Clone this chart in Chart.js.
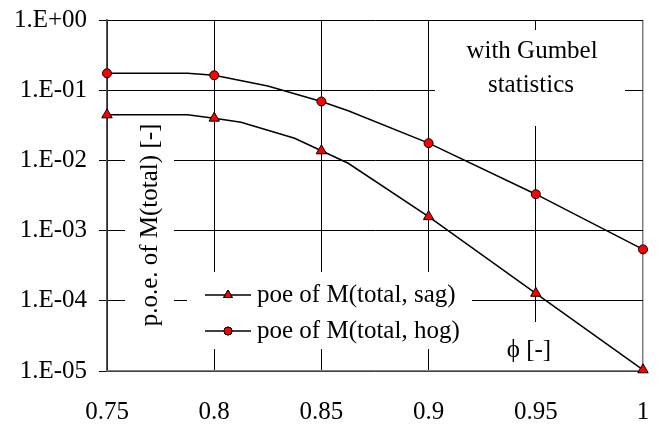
<!DOCTYPE html>
<html>
<head>
<meta charset="utf-8">
<script src="https://cdn.jsdelivr.net/npm/chart.js@4/dist/chart.umd.min.js"></script>
<style>
  html, body { margin: 0; padding: 0; background: #fff; }
  #wrap { width: 659px; height: 424px; position: relative; }
</style>
</head>
<body>
<div id="wrap"><canvas id="poeChart" width="659" height="424"></canvas></div>
<script>
// values
const sagPhi = [0.75, 0.7875, 0.8, 0.8125, 0.8375, 0.85, 0.8625, 0.9, 0.95, 1.0];
const sagPoe = [0.0446, 0.0446, 0.040, 0.035, 0.0207, 0.0137, 0.0091, 0.00158, 0.000128, 0.0000104];

const hogPhi = [0.75, 0.7875, 0.8, 0.825, 0.85, 0.8625, 0.9, 0.95, 1.0];
const hogPoe = [0.174, 0.174, 0.163, 0.115, 0.069, 0.051, 0.0176, 0.0033, 0.00054];

// markers only sit on these phi values
const markerPhi = [0.75, 0.8, 0.85, 0.9, 0.95, 1.0];

const xTicks = [0.75, 0.8, 0.85, 0.9, 0.95, 1.0];
const xTickLabels = ['0.75', '0.8', '0.85', '0.9', '0.95', '1'];
const yTicks = [1e-5, 1e-4, 1e-3, 1e-2, 1e-1, 1];
const yTickLabels = ['1.E-05', '1.E-04', '1.E-03', '1.E-02', '1.E-01', '1.E+00'];

const seriesNames = ['poe of M(total, sag)', 'poe of M(total, hog)'];

const FONT = "'Liberation Serif', 'Times New Roman', serif";
const FSIZE = 25;

function toPoints(xs, ys) {
  return xs.map((x, i) => ({ x: x, y: ys[i] }));
}

function isMarker(x) {
  return markerPhi.some(m => Math.abs(m - x) < 1e-9);
}

// white boxes and texts sitting inside the plot (legend, titles, note)
const overlayPlugin = {
  id: 'overlay',
  beforeDatasetsDraw(chart) {
    const ctx = chart.ctx;
    ctx.save();
    ctx.fillStyle = '#fff';
    ctx.fillRect(125, 114, 49, 223);   // y title
    ctx.fillRect(187, 272, 285, 77);   // legend
    ctx.fillRect(435, 30, 190, 96);    // note
    ctx.fillRect(503, 322, 55, 48);    // x title

    ctx.fillStyle = '#000';
    ctx.font = FSIZE + 'px ' + FONT;
    ctx.textBaseline = 'middle';
    ctx.textAlign = 'center';
    ctx.fillText('with Gumbel', 532, 51);
    ctx.fillText('statistics', 531, 85);
    ctx.fillText('\u03D5 [-]', 529, 350);

    ctx.save();
    ctx.translate(150, 225);
    ctx.rotate(-Math.PI / 2);
    ctx.fillText('p.o.e. of M(total) [-]', 0, 0);
    ctx.restore();

    // legend
    const rows = [
      { y: 295, style: 'triangle', r: 5 },
      { y: 331, style: 'circle', r: 4 }
    ];
    rows.forEach((row, i) => {
      ctx.strokeStyle = '#000';
      ctx.lineWidth = 1.5;
      ctx.beginPath();
      ctx.moveTo(205, row.y);
      ctx.lineTo(251, row.y);
      ctx.stroke();
      ctx.fillStyle = '#ff0000';
      ctx.strokeStyle = '#000';
      ctx.lineWidth = 1;
      Chart.helpers.drawPoint(ctx, { pointStyle: row.style, radius: row.r, rotation: 0, borderWidth: 1 }, 228, row.y);
      ctx.fill();
      ctx.stroke();
      ctx.fillStyle = '#000';
      ctx.textAlign = 'left';
      ctx.fillText(seriesNames[i], 257, row.y);
    });
    ctx.restore();
  }
};

function noScalePadding(s) {
  s.paddingLeft = 0;
  s.paddingRight = 0;
  s.paddingTop = 0;
  s.paddingBottom = 0;
}

const canvas = document.getElementById('poeChart');
new Chart(canvas.getContext('2d'), {
  type: 'line',
  data: {
    datasets: [
      {
        label: seriesNames[0],
        data: toPoints(sagPhi, sagPoe),
        borderColor: '#000',
        borderWidth: 1.5,
        backgroundColor: '#ff0000',
        pointStyle: 'triangle',
        pointBackgroundColor: '#ff0000',
        pointBorderColor: '#000',
        pointBorderWidth: 1,
        pointRadius: c => (isMarker(c.raw.x) ? 6 : 0),
        tension: 0,
        clip: false
      },
      {
        label: seriesNames[1],
        data: toPoints(hogPhi, hogPoe),
        borderColor: '#000',
        borderWidth: 1.5,
        backgroundColor: '#ff0000',
        pointStyle: 'circle',
        pointBackgroundColor: '#ff0000',
        pointBorderColor: '#000',
        pointBorderWidth: 1,
        pointRadius: c => (isMarker(c.raw.x) ? 4.5 : 0),
        tension: 0,
        clip: false
      }
    ]
  },
  options: {
    responsive: false,
    animation: false,
    devicePixelRatio: 1,
    events: [],
    layout: { padding: { left: 0, top: 20, right: 16, bottom: 0 } },
    plugins: {
      legend: { display: false },
      tooltip: { enabled: false }
    },
    scales: {
      x: {
        type: 'linear',
        min: 0.75,
        max: 1.0,
        afterBuildTicks: s => { s.ticks = xTicks.map(v => ({ value: v })); },
        afterFit: s => { s.height = 53; noScalePadding(s); },
        grid: {
          color: c => (c.index === xTicks.length - 1 ? '#808080' : '#000'),
          lineWidth: c => (c.index === xTicks.length - 1 ? 1.5 : 1),
          drawTicks: false
        },
        border: { color: '#808080', width: 1.5 },
        ticks: {
          padding: 26,
          color: '#000',
          font: { family: FONT, size: FSIZE },
          maxRotation: 0,
          autoSkip: false,
          callback: (v, i) => xTickLabels[i]
        }
      },
      y: {
        type: 'logarithmic',
        min: 1e-5,
        max: 1,
        afterBuildTicks: s => { s.ticks = yTicks.map(v => ({ value: v })); },
        afterFit: s => { s.width = 107; noScalePadding(s); },
        grid: {
          color: '#000',
          lineWidth: 1,
          tickLength: 8
        },
        border: { color: '#555', width: 1.5 },
        ticks: {
          padding: 12,
          color: '#000',
          autoSkip: false,
          font: { family: FONT, size: FSIZE },
          callback: (v, i) => yTickLabels[i]
        }
      }
    }
  },
  plugins: [overlayPlugin]
});
</script>
</body>
</html>
